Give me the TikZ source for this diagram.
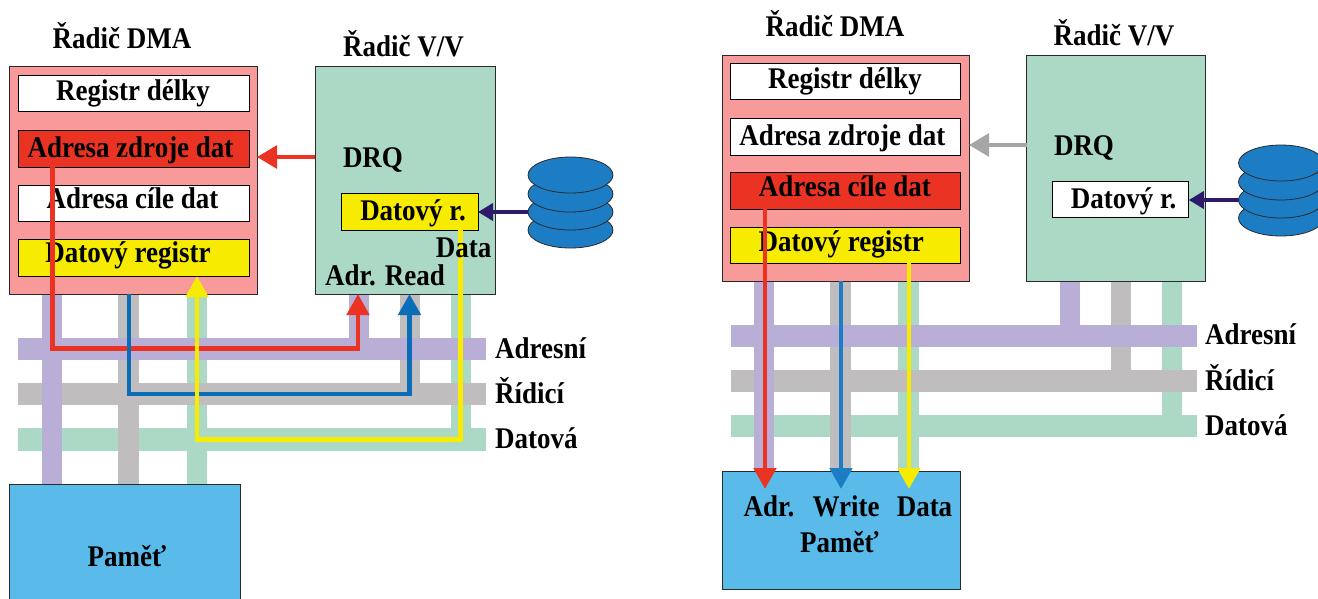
\documentclass[tikz,border=0pt]{standalone}
\usepackage{fontspec}
\setmainfont[FakeStretch=0.9]{Liberation Serif}
\usetikzlibrary{arrows.meta,fit,shapes.geometric}
\definecolor{dmapink}{HTML}{F89A9A}
\definecolor{busgreen}{HTML}{ABD9C6}
\definecolor{buspurple}{HTML}{B8AED6}
\definecolor{busgray}{HTML}{BFBDBE}
\definecolor{memblue}{HTML}{5ABBEA}
\definecolor{regyellow}{HTML}{F7EC00}
\definecolor{regred}{HTML}{EB3324}
\definecolor{flowblue}{HTML}{0B6DB8}
\definecolor{flowblueb}{HTML}{1C7DC4}
\definecolor{diskblue}{HTML}{1C7DC4}
\definecolor{darkflow}{HTML}{2E1A6B}
\definecolor{flowgray}{HTML}{A6A6A6}
\definecolor{edgedark}{HTML}{2A2A2A}
\tikzset{
  x=1pt,y=-1pt,
  boxed/.style={draw=edgedark,line width=1pt,inner sep=0pt,outer sep=0pt},
  reg/.style={boxed,draw=black,fill=white},
  bus/.style={inner sep=0pt,outer sep=0pt},
  stub/.style={line width=20.3pt},
  lab/.style={anchor=base,inner sep=0pt,font=\bfseries\fontsize{30}{30}\selectfont,text=black},
  labw/.style={lab,anchor=base west},
  disk/.style={ellipse,draw=edgedark,line width=.8pt,fill=diskblue,minimum width=85pt,minimum height=36pt,inner sep=0pt,outer sep=0pt},
  flow/.style={line width=4.8pt,-{Triangle[length=21pt,width=22pt]}},
  side flow/.style={line width=4.4pt,-{Triangle[length=20pt,width=22.5pt]}},
  disk flow/.style={line width=3.6pt,-{Triangle[length=15pt,width=17pt]}},
}
\begin{document}
\begin{tikzpicture}
\useasboundingbox (0,0) rectangle (1318,598);
\clip (0,0) rectangle (1318,598);
\fill[white] (0,0) rectangle (1318,598);

% x positions of the vertical lines
\coordinate (LP) at (52,0);   \coordinate (LG) at (128.5,0); \coordinate (LD) at (197,0);
\coordinate (LSP) at (359,0); \coordinate (LSG) at (410,0);  \coordinate (LSD) at (461.3,0);
\coordinate (LRed) at (52.4,0); \coordinate (LBlue) at (129,0); \coordinate (LYel) at (460.4,0);
\coordinate (LRedT) at (358,0); \coordinate (LBlueT) at (409.5,0);
\coordinate (RP) at (764,0);  \coordinate (RG) at (840.5,0); \coordinate (RD) at (908.5,0);
\coordinate (RSP) at (1070,0);\coordinate (RSG) at (1121,0); \coordinate (RSD) at (1172,0);
\coordinate (RRedT) at (765,489); \coordinate (RBlueT) at (841,489); \coordinate (RYelT) at (909,489);

% ---------- left: boxes used as anchors
\node[bus,fit={(18,337.7)(486,360)}] (la) {};
\node[bus,fit={(18,383)(486,405)}] (lc) {};
\node[bus,fit={(18,428)(486,451)}] (ld) {};
\node[boxed,fit={(9.6,66.7)(257,294)}] (ldma) {};
\node[boxed,fit={(315.3,66.7)(495,294)}] (lvv) {};
\node[boxed,fit={(9.6,484.7)(240,620)}] (lmem) {};

% ---------- right: boxes used as anchors
\node[bus,fit={(730.7,325)(1196.7,347)}] (ra) {};
\node[bus,fit={(730.7,370.3)(1196.7,391.7)}] (rc) {};
\node[bus,fit={(730.7,415)(1196.7,437)}] (rd) {};
\node[boxed,fit={(722,55)(969,281)}] (rdma) {};
\node[boxed,fit={(1026.8,55)(1205.7,281)}] (rvv) {};
\node[boxed,fit={(722,471)(960.5,589.3)}] (rmem) {};

% ---------- buses: green, then gray, then purple
\fill[busgreen] (la.north west |- ld.north) rectangle (ld.south east);
\draw[busgreen,stub] (ldma.south -| LD) -- (lmem.north -| LD);
\draw[busgreen,stub] (lvv.south -| LSD) -- (ld.north -| LSD);
\fill[busgreen] (ra.north west |- rd.north) rectangle (rd.south east);
\draw[busgreen,stub] (rdma.south -| RD) -- (rmem.north -| RD);
\draw[busgreen,stub] (rvv.south -| RSD) -- (rd.north -| RSD);

\fill[busgray] (lc.north west) rectangle (lc.south east);
\draw[busgray,stub] (ldma.south -| LG) -- (lmem.north -| LG);
\draw[busgray,stub] (lvv.south -| LSG) -- (lc.north -| LSG);
\fill[busgray] (rc.north west) rectangle (rc.south east);
\draw[busgray,stub] (rdma.south -| RG) -- (rmem.north -| RG);
\draw[busgray,stub] (rvv.south -| RSG) -- (rc.north -| RSG);

\fill[buspurple] (la.north west) rectangle (la.south east);
\draw[buspurple,stub] (ldma.south -| LP) -- (lmem.north -| LP);
\draw[buspurple,stub] (lvv.south -| LSP) -- (la.north -| LSP);
\fill[buspurple] (ra.north west) rectangle (ra.south east);
\draw[buspurple,stub] (rdma.south -| RP) -- (rmem.north -| RP);
\draw[buspurple,stub] (rvv.south -| RSP) -- (ra.north -| RSP);

% ---------- filled boxes
\fill[dmapink] (ldma.north west) rectangle (ldma.south east);
\draw[edgedark,line width=1pt] (ldma.north west) rectangle (ldma.south east);
\fill[busgreen] (lvv.north west) rectangle (lvv.south east);
\draw[edgedark,line width=1pt] (lvv.north west) rectangle (lvv.south east);
\fill[memblue] (lmem.north west) rectangle (lmem.south east);
\draw[edgedark,line width=1pt] (lmem.north west) rectangle (lmem.south east);
\fill[dmapink] (rdma.north west) rectangle (rdma.south east);
\draw[edgedark,line width=1pt] (rdma.north west) rectangle (rdma.south east);
\fill[busgreen] (rvv.north west) rectangle (rvv.south east);
\draw[edgedark,line width=1pt] (rvv.north west) rectangle (rvv.south east);
\fill[memblue] (rmem.north west) rectangle (rmem.south east);
\draw[edgedark,line width=1pt] (rmem.north west) rectangle (rmem.south east);

% ---------- registers, left
\node[reg,fit={(18,75.3)(249,111.3)}] (lr1) {};
\node[reg,fill=regred,fit={(18,130.7)(249,167)}] (lr2) {};
\node[reg,fit={(18,185)(249,221)}] (lr3) {};
\node[reg,fill=regyellow,fit={(18,239)(249,276)}] (lr4) {};
\node[reg,fill=regyellow,fit={(341,193.7)(478,230)}] (lr5) {};
% ---------- registers, right
\node[reg,fit={(730.7,63.3)(960.5,99.3)}] (rr1) {};
\node[reg,fit={(730.7,118.3)(960.5,155)}] (rr2) {};
\node[reg,fill=regred,fit={(730.7,172.7)(960.5,209)}] (rr3) {};
\node[reg,fill=regyellow,fit={(730.7,227)(960.5,263)}] (rr4) {};
\node[reg,fit={(1052,181.3)(1188.8,217.7)}] (rr5) {};

% ---------- disks
\node[disk] (ld4) at (570.5,230) {};
\node[disk] (ld3) at (570.5,212) {};
\node[disk] (ld2) at (570.5,194) {};
\node[disk] (ld1) at (570.5,175) {};
\node[disk] (rd4) at (1281,218) {};
\node[disk] (rd3) at (1281,200) {};
\node[disk] (rd2) at (1281,182) {};
\node[disk] (rd1) at (1281,163) {};

% ---------- labels
\node[lab] (t1) at (122,48) {Řadič DMA};
\node[lab] (t2) at (403.4,56.7) {Řadič V/V};
\node[lab] (t3) at (133,100) {Registr délky};
\node[lab] (t4) at (130.5,157) {Adresa zdroje dat};
\node[lab] (t5) at (132.5,208) {Adresa cíle dat};
\node[lab] (t6) at (128,262.7) {Datový registr};
\node[lab] (t7) at (373,167.7) {DRQ};
\node[lab] (t8) at (413,220.7) {Datový r.};
\node[lab] (t10) at (385,285) {Adr. Read};
\node[labw] (t11) at (495,358) {Adresní};
\node[labw] (t12) at (495,403) {Řídicí};
\node[labw] (t13) at (495,448) {Datová};
\node[lab] (t14) at (127,566.7) {Paměť};

\node[lab] (u1) at (835,36.7) {Řadič DMA};
\node[lab] (u2) at (1114,45) {Řadič V/V};
\node[lab] (u3) at (845,88) {Registr délky};
\node[lab] (u4) at (842.3,145.7) {Adresa zdroje dat};
\node[lab] (u5) at (844.9,196.7) {Adresa cíle dat};
\node[lab] (u6) at (841.3,251) {Datový registr};
\node[lab] (u7) at (1084,155.7) {DRQ};
\node[lab] (u8) at (1123.7,208.7) {Datový r.};
\node[labw] (u11) at (1205,344.3) {Adresní};
\node[labw] (u12) at (1205,390.7) {Řídicí};
\node[labw] (u13) at (1205,435.7) {Datová};
\node[lab] (u14) at (769,516.7) {Adr.};
\node[lab] (u15) at (846,516.7) {Write};
\node[lab] (u16) at (924.5,516.7) {Data};
\node[lab] (u17) at (839.3,552.7) {Paměť};

% ---------- flows, left
\draw[side flow,regred] (lvv.west |- 0,157) -- (ldma.east |- 0,157);
\draw[disk flow,darkflow] (ld3.west) -- (lr5.east |- ld3.west);
\draw[flow,regred] (lr2.south -| LRed) -- (LRed |- la.center) -| (lvv.south -| LRedT);
\draw[flow,flowblue] (ldma.south -| LBlue) -- (LBlue |- lc.center) -| (lvv.south -| LBlueT);
\draw[flow,regyellow] (lr5.south -| LYel) -- (LYel |- ld.center) -| (lr4.south -| LD);
\node[lab] (t9) at (463.7,257.7) {Data};

% ---------- flows, right
\draw[side flow,flowgray] (rvv.west |- 0,145) -- (rdma.east |- 0,145);
\draw[disk flow,darkflow] (rd3.west) -- (rr5.east |- rd3.west);
\draw[flow,regred] (rr3.south -| RRedT) -- (RRedT);
\draw[flow,flowblueb] (rdma.south -| RBlueT) -- (RBlueT);
\draw[flow,regyellow] (rr4.south -| RYelT) -- (RYelT);
\end{tikzpicture}
\end{document}
